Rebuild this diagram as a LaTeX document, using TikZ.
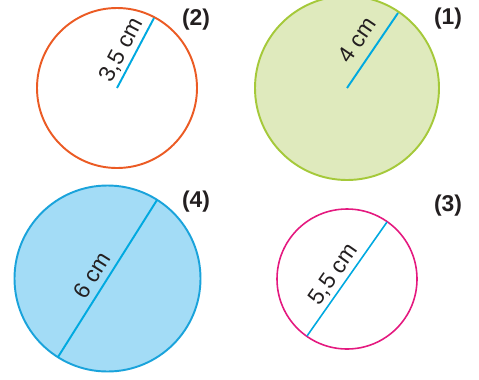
\documentclass[tikz,border=0pt]{standalone}
\usepackage{fontspec}
\setmainfont{Liberation Sans}
\usetikzlibrary{positioning, calc}

\definecolor{ringorange}{HTML}{EB5B24}
\definecolor{ringgreen}{HTML}{A5C93A}
\definecolor{fillgreen}{HTML}{DFEABD}
\definecolor{ringblue}{HTML}{1AA3DB}
\definecolor{fillblue}{HTML}{A3DCF6}
\definecolor{ringpink}{HTML}{E4197F}
\definecolor{radline}{HTML}{00A9E0}
\definecolor{labelgray}{HTML}{231F20}

\begin{document}
\begin{tikzpicture}[
    x=0.02cm, y=-0.02cm,
    ring/.style={line width=1.1pt},
    segment/.style={draw=radline, line width=1.1pt},
    lenlabel/.style={sloped, above=3.5pt, inner sep=0pt, text depth=0pt, font=\fontsize{13}{15}\selectfont, text=labelgray},
    numlabel/.style={font=\fontsize{13}{15}\selectfont\bfseries, text=labelgray}
]
\useasboundingbox (0,0) rectangle (479,379);

% 1. Centres and end points
\coordinate (c2) at (117,88);
\coordinate (e2) at (154,18);
\coordinate (c1) at (347,88);
\coordinate (e1) at (398,13);
\coordinate (c4) at (107.5,278.5);
\coordinate (a4) at (58,357);
\coordinate (b4) at (157,200);
\coordinate (c3) at (347,279);
\coordinate (a3) at (307,336);
\coordinate (b3) at (387,222);

% 2. Circles
\draw[ring, draw=ringorange] (c2) circle[radius=80];
\draw[ring, draw=ringgreen, fill=fillgreen] (c1) circle[radius=92];
\draw[ring, draw=ringblue, fill=fillblue] (c4) circle[radius=93];
\draw[ring, draw=ringpink, line width=0.9pt] (c3) circle[radius=70];

% 3. Radii and diameters
\draw[segment] (c2) -- (e2) node[lenlabel, pos=0.45] {3,5 cm};
\draw[segment] (c1) -- (e1) node[lenlabel, pos=0.5, above=5.5pt] {4 cm};
\draw[segment] (a4) -- (b4) node[lenlabel, pos=0.47] {6 cm};
\draw[segment, line width=0.9pt] (a3) -- (b3) node[lenlabel, pos=0.47] {5,5 cm};

% 4. Numbers
\node[numlabel] (n2) at (196,20) {(2)};
\node[numlabel] (n1) at (448,19) {(1)};
\node[numlabel] (n4) at (196,202) {(4)};
\node[numlabel] (n3) at (448,206) {(3)};

\end{tikzpicture}
\end{document}
